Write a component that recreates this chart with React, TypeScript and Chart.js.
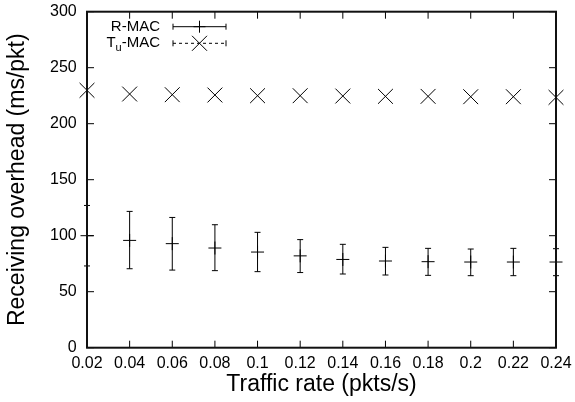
import React, { useEffect, useRef } from "react";
import { Chart, registerables } from "chart.js";

Chart.register(...registerables);

const xValues = [0.02, 0.04, 0.06, 0.08, 0.1, 0.12, 0.14, 0.16, 0.18, 0.2, 0.22, 0.24];
const rmacMean = [100, 95.8, 92.9, 89.0, 85.4, 82.0, 78.8, 77.4, 76.8, 76.5, 76.5, 76.5];
const rmacLow = [73, 70.5, 69.3, 68.8, 67.9, 67.1, 65.8, 64.9, 64.6, 64.3, 64.3, 64.3];
const rmacHigh = [127, 121.7, 116.3, 109.8, 103, 96.5, 92.3, 89.6, 88.7, 88.1, 88.7, 88.4];
const tumacMean = [229.8, 226.5, 225.9, 225.6, 225.0, 225.0, 224.7, 224.4, 224.4, 224.1, 224.1, 223.5];
const xTicks = [0.02, 0.04, 0.06, 0.08, 0.1, 0.12, 0.14, 0.16, 0.18, 0.2, 0.22, 0.24];
const yTicks = [0, 50, 100, 150, 200, 250, 300];
const xTitle = "Traffic rate (pkts/s)";
const yTitle = "Receiving overhead (ms/pkt)";
const legendR = "R-MAC";
const legendTuMain = "T";
const legendTuSub = "u";
const legendTuRest = "-MAC";

const FONT = "'Liberation Sans', Arial, Helvetica, sans-serif";

const gnuplotPlugin = {
  id: "gnuplotFrame",
  beforeDatasetsDraw(chart: any) {
    const { ctx, scales } = chart;
    const x = scales.x;
    const y = scales.y;
    ctx.save();
    ctx.strokeStyle = "#000";
    ctx.lineWidth = 1;
    xValues.forEach((v, i) => {
      const px = x.getPixelForValue(v);
      const yl = y.getPixelForValue(rmacLow[i]);
      const yh = y.getPixelForValue(rmacHigh[i]);
      ctx.beginPath();
      ctx.moveTo(px, yl);
      ctx.lineTo(px, yh);
      ctx.moveTo(px - 3, yl);
      ctx.lineTo(px + 3, yl);
      ctx.moveTo(px - 3, yh);
      ctx.lineTo(px + 3, yh);
      ctx.stroke();
    });
    ctx.restore();
  },
  afterDraw(chart: any) {
    const { ctx, chartArea, scales } = chart;
    const x = scales.x;
    const y = scales.y;
    const { left, right, top, bottom } = chartArea;
    ctx.save();
    ctx.strokeStyle = "#000";
    ctx.lineWidth = 1;
    const tl = 7;
    ctx.beginPath();
    xTicks.forEach((v) => {
      const px = x.getPixelForValue(v);
      ctx.moveTo(px, bottom);
      ctx.lineTo(px, bottom - tl);
      ctx.moveTo(px, top);
      ctx.lineTo(px, top + tl);
    });
    yTicks.forEach((v) => {
      const py = y.getPixelForValue(v);
      ctx.moveTo(left, py);
      ctx.lineTo(left + tl, py);
      ctx.moveTo(right, py);
      ctx.lineTo(right - tl, py);
    });
    ctx.stroke();
    ctx.lineWidth = 2;
    ctx.strokeStyle = "#111";
    ctx.strokeRect(left, top, right - left, bottom - top);

    // legend
    ctx.fillStyle = "#000";
    ctx.textBaseline = "middle";
    ctx.font = `15px ${FONT}`;
    const textRight = 160;
    const sx0 = 173;
    const sx1 = 226;
    const smid = 199.5;
    const y1 = 26.7;
    const y2 = 43.3;
    ctx.textAlign = "right";
    ctx.fillText(legendR, textRight, y1);
    const wRest = ctx.measureText(legendTuRest).width;
    ctx.fillText(legendTuRest, textRight, y2);
    ctx.font = `11px ${FONT}`;
    const wSub = ctx.measureText(legendTuSub).width;
    ctx.fillText(legendTuSub, textRight - wRest, y2 + 5);
    ctx.font = `15px ${FONT}`;
    ctx.fillText(legendTuMain, textRight - wRest - wSub, y2);

    ctx.strokeStyle = "#000";
    ctx.lineWidth = 1;
    ctx.beginPath();
    ctx.moveTo(sx0, y1);
    ctx.lineTo(sx1, y1);
    ctx.moveTo(sx0, y1 - 3);
    ctx.lineTo(sx0, y1 + 3);
    ctx.moveTo(sx1, y1 - 3);
    ctx.lineTo(sx1, y1 + 3);
    ctx.moveTo(smid - 6, y1);
    ctx.lineTo(smid + 6, y1);
    ctx.moveTo(smid, y1 - 6);
    ctx.lineTo(smid, y1 + 6);
    ctx.stroke();
    ctx.beginPath();
    ctx.setLineDash([3, 3]);
    ctx.moveTo(sx0, y2);
    ctx.lineTo(sx1, y2);
    ctx.stroke();
    ctx.setLineDash([]);
    ctx.beginPath();
    ctx.moveTo(sx0, y2 - 3);
    ctx.lineTo(sx0, y2 + 3);
    ctx.moveTo(sx1, y2 - 3);
    ctx.lineTo(sx1, y2 + 3);
    ctx.moveTo(smid - 7.5, y2 - 7.5);
    ctx.lineTo(smid + 7.5, y2 + 7.5);
    ctx.moveTo(smid - 7.5, y2 + 7.5);
    ctx.lineTo(smid + 7.5, y2 - 7.5);
    ctx.stroke();
    ctx.restore();
  },
};

export default function App() {
  const canvasRef = useRef<HTMLCanvasElement | null>(null);

  useEffect(() => {
    const canvas = canvasRef.current;
    if (!canvas) return;
    Chart.defaults.font.family = FONT;
    Chart.defaults.color = "#000";
    const chart = new Chart(canvas, {
      type: "scatter",
      data: {
        datasets: [
          {
            label: legendR,
            data: xValues.map((v, i) => ({ x: v, y: rmacMean[i] })),
            pointStyle: "cross",
            pointRadius: 6.5,
            pointHoverRadius: 6.5,
            borderColor: "#000",
            backgroundColor: "#000",
            pointBorderWidth: 1,
            borderWidth: 1,
            showLine: false,
            clip: false as any,
          },
          {
            label: "Tu-MAC",
            data: xValues.map((v, i) => ({ x: v, y: tumacMean[i] })),
            pointStyle: "crossRot",
            pointRadius: 10.5,
            pointHoverRadius: 10.5,
            borderColor: "#000",
            backgroundColor: "#000",
            pointBorderWidth: 1,
            borderWidth: 1,
            showLine: false,
            clip: false as any,
          },
        ],
      },
      options: {
        animation: false,
        responsive: false,
        events: [],
        layout: { padding: { left: 0, top: 11.7, right: 19, bottom: 0 } },
        plugins: {
          legend: { display: false },
          tooltip: { enabled: false },
        },
        scales: {
          x: {
            type: "linear",
            min: 0.02,
            max: 0.24,
            afterBuildTicks: (scale: any) => {
              scale.ticks = xTicks.map((v) => ({ value: v }));
            },
            afterFit: (scale: any) => {
              scale.height = 54.3;
              scale.paddingLeft = 0;
              scale.paddingRight = 0;
              scale.paddingTop = 0;
              scale.paddingBottom = 0;
            },
            grid: { display: false, drawTicks: false },
            border: { display: false },
            ticks: {
              padding: 6.7,
              maxRotation: 0,
              autoSkip: false,
              font: { size: 16, family: FONT },
              color: "#000",
              callback: (v: any) => String(+Number(v).toFixed(2)),
            },
            title: {
              display: true,
              text: xTitle,
              font: { size: 23, family: FONT },
              color: "#000",
              padding: { top: 0, bottom: 3.2 },
            },
          },
          y: {
            type: "linear",
            min: 0,
            max: 300,
            afterBuildTicks: (scale: any) => {
              scale.ticks = yTicks.map((v) => ({ value: v }));
            },
            afterFit: (scale: any) => {
              scale.width = 87;
              scale.paddingLeft = 0;
              scale.paddingRight = 0;
              scale.paddingTop = 0;
              scale.paddingBottom = 0;
            },
            grid: { display: false, drawTicks: false },
            border: { display: false },
            ticks: {
              padding: 10.3,
              autoSkip: false,
              font: { size: 16, family: FONT },
              color: "#000",
            },
            title: {
              display: true,
              text: yTitle,
              font: { size: 23, family: FONT },
              color: "#000",
              padding: { top: 3.7, bottom: 0 },
            },
          },
        },
      },
      plugins: [gnuplotPlugin],
    });
    return () => chart.destroy();
  }, []);

  return (
    <div style={{ position: "fixed", left: 0, top: 0, width: 575, height: 402, background: "#fff" }}>
      <canvas ref={canvasRef} width={575} height={402} style={{ display: "block" }} />
    </div>
  );
}
